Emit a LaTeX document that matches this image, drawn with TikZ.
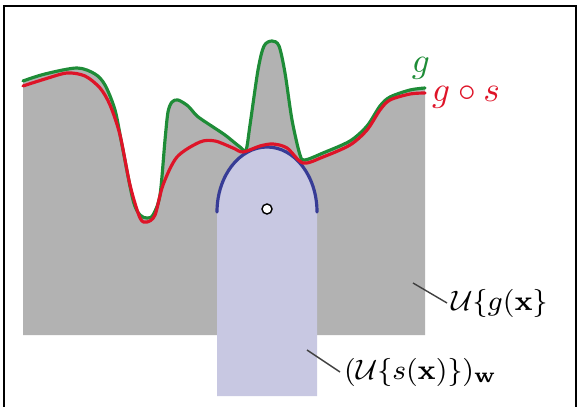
\documentclass[tikz,border=0pt]{standalone}
\usepackage{amsmath}
\definecolor{areagray}{RGB}{178,178,178}
\definecolor{structlav}{RGB}{200,200,226}
\definecolor{arcblue}{RGB}{55,60,150}
\definecolor{ggreen}{RGB}{30,140,55}
\definecolor{gsred}{RGB}{222,20,40}
\begin{document}
\begin{tikzpicture}[x=0.01cm, y=-0.01cm,
  curve/.style={line width=0.9pt, line join=round, line cap=round},
  leader/.style={line width=0.4pt, draw=black!75},
  lbl/.style={inner sep=1pt, anchor=west}]
\useasboundingbox (0,0) rectangle (577,407);
\draw[line width=0.6pt] (4,407) -- (4,6) -- (576,6) -- (576,407);

\fill[areagray] (23,335) -- plot[smooth, tension=0.5] coordinates {(23,81) (45,74) (77,68) (95,74) (105,85) (115,110) (122,145) (133,200) (140,215) (147,218) (153,215) (160,195) (165,140) (168,112) (172,102) (178,100) (188,106) (197,116) (210,125) (225,135) (240,147) (246,150) (250,125) (258,70) (264,46) (272,41) (279,46) (285,73) (292,120) (300,155) (305,160) (323,153) (350,141) (367,126) (380,106) (390,97) (410,90) (425,88)} -- (425,335) -- cycle;

\fill[structlav] (217,396) -- (217,212) arc[start angle=180, end angle=0, x radius=50, y radius=-65] -- (317,396) -- cycle;
\draw[arcblue, curve] (217,212) arc[start angle=180, end angle=0, x radius=50, y radius=-65];
\node[circle, draw, fill=white, inner sep=0pt, minimum size=0.1cm, line width=0.4pt] (center) at (267,209) {};

\draw[ggreen, curve] plot[smooth, tension=0.5] coordinates {(23,81) (45,74) (77,68) (95,74) (105,85) (115,110) (122,145) (133,200) (140,215) (147,218) (153,215) (160,195) (165,140) (168,112) (172,102) (178,100) (188,106) (197,116) (210,125) (225,135) (240,147) (246,150) (250,125) (258,70) (264,46) (272,41) (279,46) (285,73) (292,120) (300,155) (305,160) (323,153) (350,141) (367,126) (380,106) (390,97) (410,90) (425,88)};
\draw[gsred, curve] plot[smooth, tension=0.5] coordinates {(23,86) (45,79) (67,73) (85,76) (100,88) (110,105) (120,135) (130,185) (140,218) (147,222) (155,215) (163,185) (177,157) (200,142) (215,141) (233,148) (243,152) (260,146) (273,144) (287,148) (303,163) (323,157) (350,145) (367,130) (380,110) (390,100) (410,94) (425,93)};

\node[text=ggreen, inner sep=0pt] (glabel) at (421,68) {$g$};
\node[text=gsred, lbl] (gslabel) at (428,97) {$g\circ s$};

\coordinate (gtip) at (413,283);
\node[lbl, font=\footnotesize] (uglabel) at (447,303) {$\mathcal{U}\{g(\mathbf{x}\}$};
\draw[leader] (gtip) -- (uglabel.west);

\coordinate (stip) at (307,350);
\node[lbl, font=\footnotesize] (uslabel) at (340,372) {$(\mathcal{U}\{s(\mathbf{x})\})_{\mathbf{w}}$};
\draw[leader] (stip) -- (uslabel.west);
\end{tikzpicture}
\end{document}
